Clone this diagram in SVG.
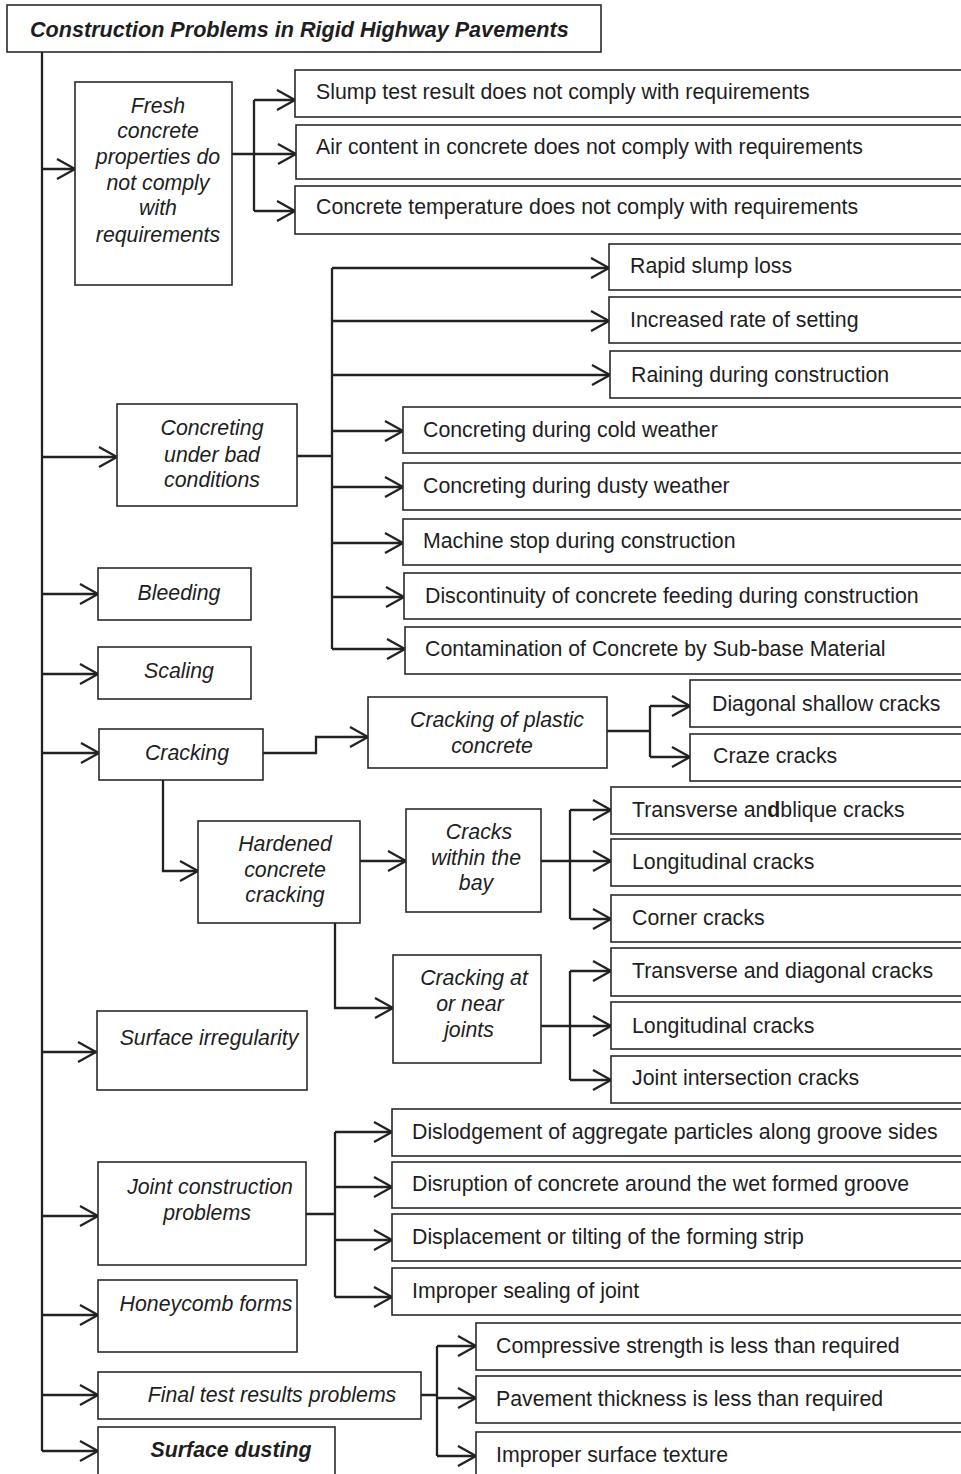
<svg xmlns="http://www.w3.org/2000/svg" width="961" height="1474" viewBox="0 0 961 1474">
<style>
.box{fill:#fff;stroke:#2a2a2a;stroke-width:1.6}
.ln{fill:none;stroke:#222;stroke-width:2.3}
.t{font-family:"Liberation Sans",Arial,sans-serif;font-size:21.3px;fill:#1e1e1e}
.i{font-style:italic;text-anchor:middle}
.b{font-weight:bold;font-style:italic}
.tt{font-size:21.6px}
</style>
<defs>
<marker id="ah" markerUnits="userSpaceOnUse" markerWidth="24" markerHeight="26" viewBox="0 0 24 26" refX="21" refY="13" orient="auto">
<path d="M3,3 L21,13 L3,23" fill="none" stroke="#222" stroke-width="2.3"/>
</marker>
</defs>
<rect width="961" height="1474" fill="#fff"/>

<g id="connectors" class="ln">
<path d="M42,52 V1451"/>
<path d="M42,169 H75" marker-end="url(#ah)"/>
<path d="M42,457 H117" marker-end="url(#ah)"/>
<path d="M42,594 H98" marker-end="url(#ah)"/>
<path d="M42,674 H98" marker-end="url(#ah)"/>
<path d="M42,753 H99" marker-end="url(#ah)"/>
<path d="M42,1052 H96" marker-end="url(#ah)"/>
<path d="M42,1216 H98" marker-end="url(#ah)"/>
<path d="M42,1315 H98" marker-end="url(#ah)"/>
<path d="M42,1395 H98" marker-end="url(#ah)"/>
<path d="M42,1451 H98" marker-end="url(#ah)"/>

<path d="M232,154 H254 M254,100 V211"/>
<path d="M254,100 H295" marker-end="url(#ah)"/>
<path d="M254,154 H296" marker-end="url(#ah)"/>
<path d="M254,211 H295" marker-end="url(#ah)"/>

<path d="M297,456 H332 M332,268 V649"/>
<path d="M332,268 H609" marker-end="url(#ah)"/>
<path d="M332,321 H609" marker-end="url(#ah)"/>
<path d="M332,375 H610" marker-end="url(#ah)"/>
<path d="M332,431 H403" marker-end="url(#ah)"/>
<path d="M332,487 H403" marker-end="url(#ah)"/>
<path d="M332,543 H403" marker-end="url(#ah)"/>
<path d="M332,597 H404" marker-end="url(#ah)"/>
<path d="M332,649 H405" marker-end="url(#ah)"/>

<path d="M263,753 H316 V737 H368" marker-end="url(#ah)"/>
<path d="M607,731 H650 M650,706 V757"/>
<path d="M650,706 H690" marker-end="url(#ah)"/>
<path d="M650,757 H690" marker-end="url(#ah)"/>

<path d="M163,780 V871 H198" marker-end="url(#ah)"/>
<path d="M360,861 H406" marker-end="url(#ah)"/>
<path d="M541,861 H570 M570,810 V919"/>
<path d="M570,810 H611" marker-end="url(#ah)"/>
<path d="M570,861 H611" marker-end="url(#ah)"/>
<path d="M570,919 H611" marker-end="url(#ah)"/>

<path d="M335,923 V1008 H393" marker-end="url(#ah)"/>
<path d="M541,1026 H570 M570,971 V1080"/>
<path d="M570,971 H611" marker-end="url(#ah)"/>
<path d="M570,1026 H611" marker-end="url(#ah)"/>
<path d="M570,1080 H611" marker-end="url(#ah)"/>

<path d="M306,1214 H335 M335,1132 V1297"/>
<path d="M335,1132 H392" marker-end="url(#ah)"/>
<path d="M335,1187 H392" marker-end="url(#ah)"/>
<path d="M335,1240 H392" marker-end="url(#ah)"/>
<path d="M335,1297 H392" marker-end="url(#ah)"/>

<path d="M421,1395 H437 M437,1346 V1456"/>
<path d="M437,1346 H476" marker-end="url(#ah)"/>
<path d="M437,1398 H476" marker-end="url(#ah)"/>
<path d="M437,1456 H476" marker-end="url(#ah)"/>
</g>

<g id="title"><rect class="box" x="7" y="5" width="594" height="47"/><text class="t b tt" x="30" y="37">Construction Problems in Rigid Highway Pavements</text></g>

<g id="fresh"><rect class="box" x="75" y="82" width="157" height="203"/>
<text class="t i" x="158" y="113">Fresh</text><text class="t i" x="158" y="138">concrete</text><text class="t i" x="158" y="164">properties do</text><text class="t i" x="158" y="190">not comply</text><text class="t i" x="158" y="215">with</text><text class="t i" x="158" y="242">requirements</text></g>
<g id="slump"><rect class="box" x="295" y="70" width="675" height="47"/><text class="t" x="316" y="99">Slump test result does not comply with requirements</text></g>
<g id="air"><rect class="box" x="296" y="125" width="674" height="54"/><text class="t" x="316" y="154">Air content in concrete does not comply with requirements</text></g>
<g id="temp"><rect class="box" x="295" y="186" width="675" height="48"/><text class="t" x="316" y="214">Concrete temperature does not comply with requirements</text></g>

<g id="bad"><rect class="box" x="117" y="404" width="180" height="102"/>
<text class="t i" x="212" y="435">Concreting</text><text class="t i" x="212" y="462">under bad</text><text class="t i" x="212" y="487">conditions</text></g>
<g id="rapid"><rect class="box" x="609" y="244" width="361" height="46"/><text class="t" x="630" y="273">Rapid slump loss</text></g>
<g id="increased"><rect class="box" x="609" y="297" width="361" height="46"/><text class="t" x="630" y="327">Increased rate of setting</text></g>
<g id="raining"><rect class="box" x="610" y="351" width="360" height="47"/><text class="t" x="631" y="382">Raining during construction</text></g>
<g id="cold"><rect class="box" x="403" y="407" width="567" height="46"/><text class="t" x="423" y="437">Concreting during cold weather</text></g>
<g id="dusty"><rect class="box" x="403" y="463" width="567" height="47"/><text class="t" x="423" y="493">Concreting during dusty weather</text></g>
<g id="machine"><rect class="box" x="403" y="519" width="567" height="46"/><text class="t" x="423" y="548">Machine stop during construction</text></g>
<g id="discont"><rect class="box" x="404" y="573" width="566" height="46"/><text class="t" x="425" y="603">Discontinuity of concrete feeding during construction</text></g>
<g id="contam"><rect class="box" x="405" y="627" width="565" height="47"/><text class="t" x="425" y="656">Contamination of Concrete by Sub-base Material</text></g>

<g id="bleeding"><rect class="box" x="98" y="568" width="153" height="52"/><text class="t i" x="179" y="600">Bleeding</text></g>
<g id="scaling"><rect class="box" x="98" y="647" width="153" height="52"/><text class="t i" x="179" y="678">Scaling</text></g>
<g id="cracking"><rect class="box" x="99" y="729" width="164" height="51"/><text class="t i" x="187" y="760">Cracking</text></g>

<g id="plastic"><rect class="box" x="368" y="697" width="239" height="71"/>
<text class="t i" x="497" y="727">Cracking of plastic</text><text class="t i" x="492" y="753">concrete</text></g>
<g id="diagshallow"><rect class="box" x="690" y="680" width="280" height="47"/><text class="t" x="712" y="711">Diagonal shallow cracks</text></g>
<g id="craze"><rect class="box" x="690" y="734" width="280" height="47"/><text class="t" x="713" y="763">Craze cracks</text></g>

<g id="hardened"><rect class="box" x="198" y="821" width="162" height="102"/>
<text class="t i" x="285" y="851">Hardened</text><text class="t i" x="285" y="877">concrete</text><text class="t i" x="285" y="902">cracking</text></g>
<g id="within"><rect class="box" x="406" y="809" width="135" height="103"/>
<text class="t i" x="479" y="839">Cracks</text><text class="t i" x="476" y="865">within the</text><text class="t i" x="476" y="890">bay</text></g>
<g id="transobl"><rect class="box" x="611" y="787" width="359" height="47"/><text class="t" x="632" y="817">Transverse an<tspan font-weight="bold">d</tspan>blique cracks</text></g>
<g id="long1"><rect class="box" x="611" y="839" width="359" height="47"/><text class="t" x="632" y="869">Longitudinal cracks</text></g>
<g id="corner"><rect class="box" x="611" y="895" width="359" height="47"/><text class="t" x="632" y="925">Corner cracks</text></g>

<g id="atjoints"><rect class="box" x="393" y="955" width="148" height="108"/>
<text class="t i" x="474" y="985">Cracking at</text><text class="t i" x="470" y="1011">or near</text><text class="t i" x="469" y="1037">joints</text></g>
<g id="transdiag"><rect class="box" x="611" y="948" width="359" height="48"/><text class="t" x="632" y="978">Transverse and diagonal cracks</text></g>
<g id="long2"><rect class="box" x="611" y="1002" width="359" height="47"/><text class="t" x="632" y="1033">Longitudinal cracks</text></g>
<g id="jointint"><rect class="box" x="611" y="1056" width="359" height="47"/><text class="t" x="632" y="1085">Joint intersection cracks</text></g>

<g id="surfirr"><rect class="box" x="97" y="1011" width="210" height="79"/><text class="t i" x="209" y="1045">Surface irregularity</text></g>

<g id="jointconstr"><rect class="box" x="98" y="1162" width="208" height="103"/>
<text class="t i" x="210" y="1194">Joint construction</text><text class="t i" x="207" y="1220">problems</text></g>
<g id="dislodg"><rect class="box" x="392" y="1109" width="578" height="47"/><text class="t" x="412" y="1139">Dislodgement of aggregate particles along groove sides</text></g>
<g id="disrupt"><rect class="box" x="392" y="1162" width="578" height="46"/><text class="t" x="412" y="1191">Disruption of concrete around the wet formed groove</text></g>
<g id="displace"><rect class="box" x="392" y="1214" width="578" height="47"/><text class="t" x="412" y="1244">Displacement or tilting of the forming strip</text></g>
<g id="sealing"><rect class="box" x="392" y="1268" width="578" height="47"/><text class="t" x="412" y="1298">Improper sealing of joint</text></g>

<g id="honeycomb"><rect class="box" x="98" y="1280" width="199" height="72"/><text class="t i" x="206" y="1311">Honeycomb forms</text></g>
<g id="finaltest"><rect class="box" x="98" y="1372" width="323" height="47"/><text class="t i" x="272" y="1402">Final test results problems</text></g>
<g id="compressive"><rect class="box" x="476" y="1323" width="494" height="47"/><text class="t" x="496" y="1353">Compressive strength is less than required</text></g>
<g id="pavement"><rect class="box" x="476" y="1376" width="494" height="47"/><text class="t" x="496" y="1406">Pavement thickness is less than required</text></g>
<g id="impsurf"><rect class="box" x="476" y="1432" width="494" height="50"/><text class="t" x="496" y="1462">Improper surface texture</text></g>
<g id="dusting"><rect class="box" x="98" y="1427" width="237" height="55"/><text class="t b" x="231" y="1457" text-anchor="middle">Surface dusting</text></g>
</svg>
